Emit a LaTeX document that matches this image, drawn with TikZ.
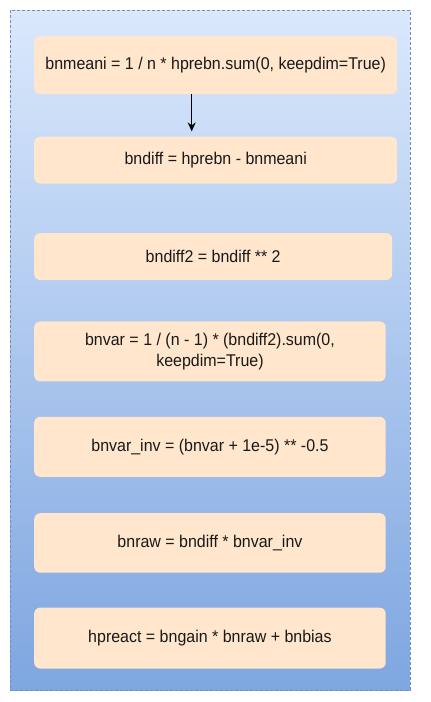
\documentclass[tikz,border=0pt]{standalone}
\usepackage{fontspec}
\setmainfont[FakeStretch=0.94]{Liberation Sans}
\usepackage{xcolor}
\usepackage{tikz}
\usetikzlibrary{arrows.meta, positioning}
\definecolor{bgtop}{HTML}{DAE8FC}
\definecolor{bgbottom}{HTML}{7EA6E0}
\definecolor{bgline}{HTML}{6C8EBF}
\definecolor{opfill}{HTML}{FFE6CC}
\tikzstyle{group} = [draw=bgline, dash pattern=on 3pt off 2pt, top color=bgtop, bottom color=bgbottom]
\tikzstyle{op} = [rectangle, rounded corners=6pt, fill=opfill, align=center, anchor=north west, minimum width=351.5pt, minimum height=60pt, font=\fontsize{17}{21.5}\selectfont, text=black!90]
\tikzstyle{arrow} = [line width=1pt, ->, >={Stealth[length=9pt, width=8pt]}]

\begin{document}
\begin{tikzpicture}[x=1pt, y=-1pt]
\useasboundingbox (0,0) rectangle (431,702);
\draw [group] (10,10) rectangle (410,690);

\node (mean) [op, minimum width=363pt, minimum height=58pt] at (34,36) {bnmeani = 1 / n * hprebn.sum(0, keepdim=True)};
\node (diff) [op, minimum width=363pt, minimum height=47pt, below=42pt of mean.south west, anchor=north west] {bndiff = hprebn - bnmeani};
\node (diffsq) [op, minimum width=358pt, minimum height=47pt, below=49pt of diff.south west, anchor=north west] {bndiff2 = bndiff ** 2};
\node (var) [op, below=41pt of diffsq.south west, anchor=north west] {bnvar = 1 / (n - 1) * (bndiff2).sum(0,\\keepdim=True)};
\node (varinv) [op, below=35pt of var.south west, anchor=north west] {bnvar\_inv = (bnvar + 1e-5) ** -0.5};
\node (raw) [op, minimum height=59.5pt, below=36pt of varinv.south west, anchor=north west] {bnraw = bndiff * bnvar\_inv};
\node (preact) [op, minimum height=61pt, below=34.5pt of raw.south west, anchor=north west] {hpreact = bngain * bnraw + bnbias};

\draw [arrow] ([xshift=-24pt]mean.south) -- ([xshift=-24pt, yshift=5pt]diff.north);
\end{tikzpicture}
\end{document}
